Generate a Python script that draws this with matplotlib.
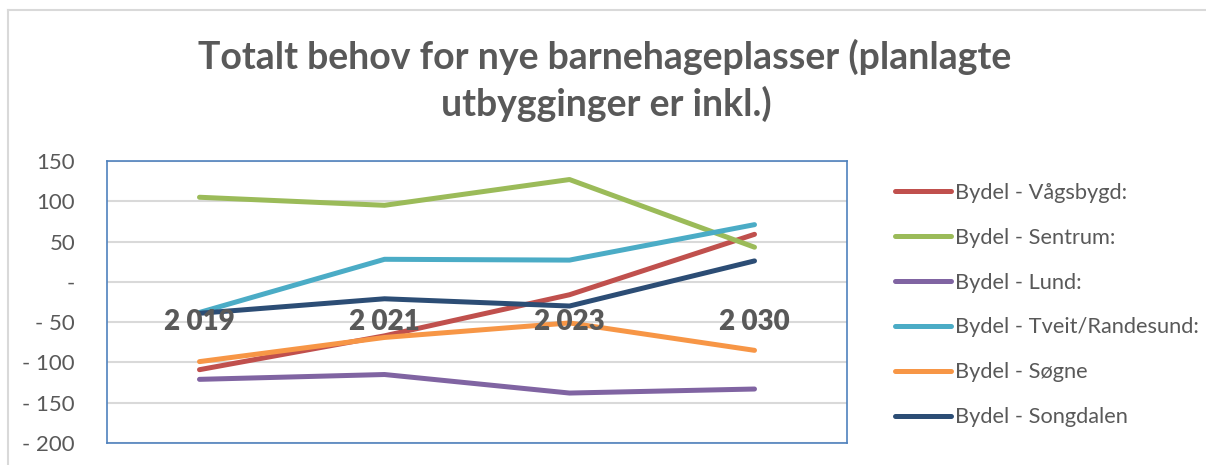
import matplotlib
matplotlib.use("Agg")
import matplotlib.pyplot as plt
from matplotlib.lines import Line2D

### Data
years = ["2 019", "2 021", "2 023", "2 030"]
series_names = ["Bydel - Vågsbygd:", "Bydel - Sentrum:", "Bydel - Lund:",
                "Bydel - Tveit/Randesund:", "Bydel - Søgne", "Bydel - Songdalen"]
vagsbygd = [-109, -67, -16, 59]
sentrum = [105, 95, 127, 43]
lund = [-121, -115, -138, -133]
tveit = [-38, 28, 27, 71]
sogne = [-99, -69, -51, -85]
songdalen = [-39, -21, -30, 26]
ytick_vals = [150, 100, 50, 0, -50, -100, -150, -200]
ytick_labels = ["150", "100", "50", "-", "- 50", "- 100", "- 150", "- 200"]

colors = ["#C0504D", "#9BBB59", "#8064A2", "#4BACC6", "#F79646", "#2C4D75"]
txt = "#595959"

plt.rcParams['font.family'] = ['Lato', 'DejaVu Sans']

fig = plt.figure(figsize=(12.06, 4.65), dpi=100)

# outer chart border (top + left only visible)
fig.add_artist(Line2D([8/1206, 8/1206], [0, 1 - 10/465], transform=fig.transFigure,
                      color="#D9D9D9", lw=1.5))
fig.add_artist(Line2D([8/1206, 1], [1 - 10/465, 1 - 10/465], transform=fig.transFigure,
                      color="#D9D9D9", lw=1.5))

ax = fig.add_axes([107/1206, 22/465, 740/1206, 282/465])

x = range(len(years))
all_series = [vagsbygd, sentrum, lund, tveit, sogne, songdalen]
for name, vals, c in zip(series_names, all_series, colors):
    ax.plot(x, vals, color=c, lw=3.6, solid_capstyle='round', solid_joinstyle='round',
            label=name, zorder=3)

ax.set_xlim(-0.5, len(years) - 0.5)
ax.set_ylim(-200, 150)
ax.set_yticks(ytick_vals)
ax.set_yticklabels(ytick_labels, fontsize=16, color=txt)
ax.set_xticks([])
ax.tick_params(axis='y', length=0, pad=23)
ax.yaxis.grid(True, color="#D9D9D9", lw=1.5)
ax.set_axisbelow(True)
for s in ax.spines.values():
    s.set_color("#4F81BD")
    s.set_linewidth(1.2)

# category labels sit at the -50 line
for i, yr in enumerate(years):
    ax.text(i, -50, yr, ha='center', va='center', fontsize=20, fontweight='heavy',
            color=txt, zorder=4)

fig.text(605/1206, 1 - 57/465, "Totalt behov for nye barnehageplasser (planlagte",
         ha='center', va='center', fontsize=27, fontweight='bold', color=txt)
fig.text(606/1206, 1 - 104/465, "utbygginger er inkl.)",
         ha='center', va='center', fontsize=27, fontweight='bold', color=txt)

fig.legend(loc='upper left', bbox_to_anchor=(884/1206, 1 - 172/465), frameon=False,
           fontsize=15.7, labelcolor=txt, handlelength=2.55, handletextpad=0.2,
           labelspacing=1.14, borderpad=0)

fig.savefig("out.png", dpi=100)
